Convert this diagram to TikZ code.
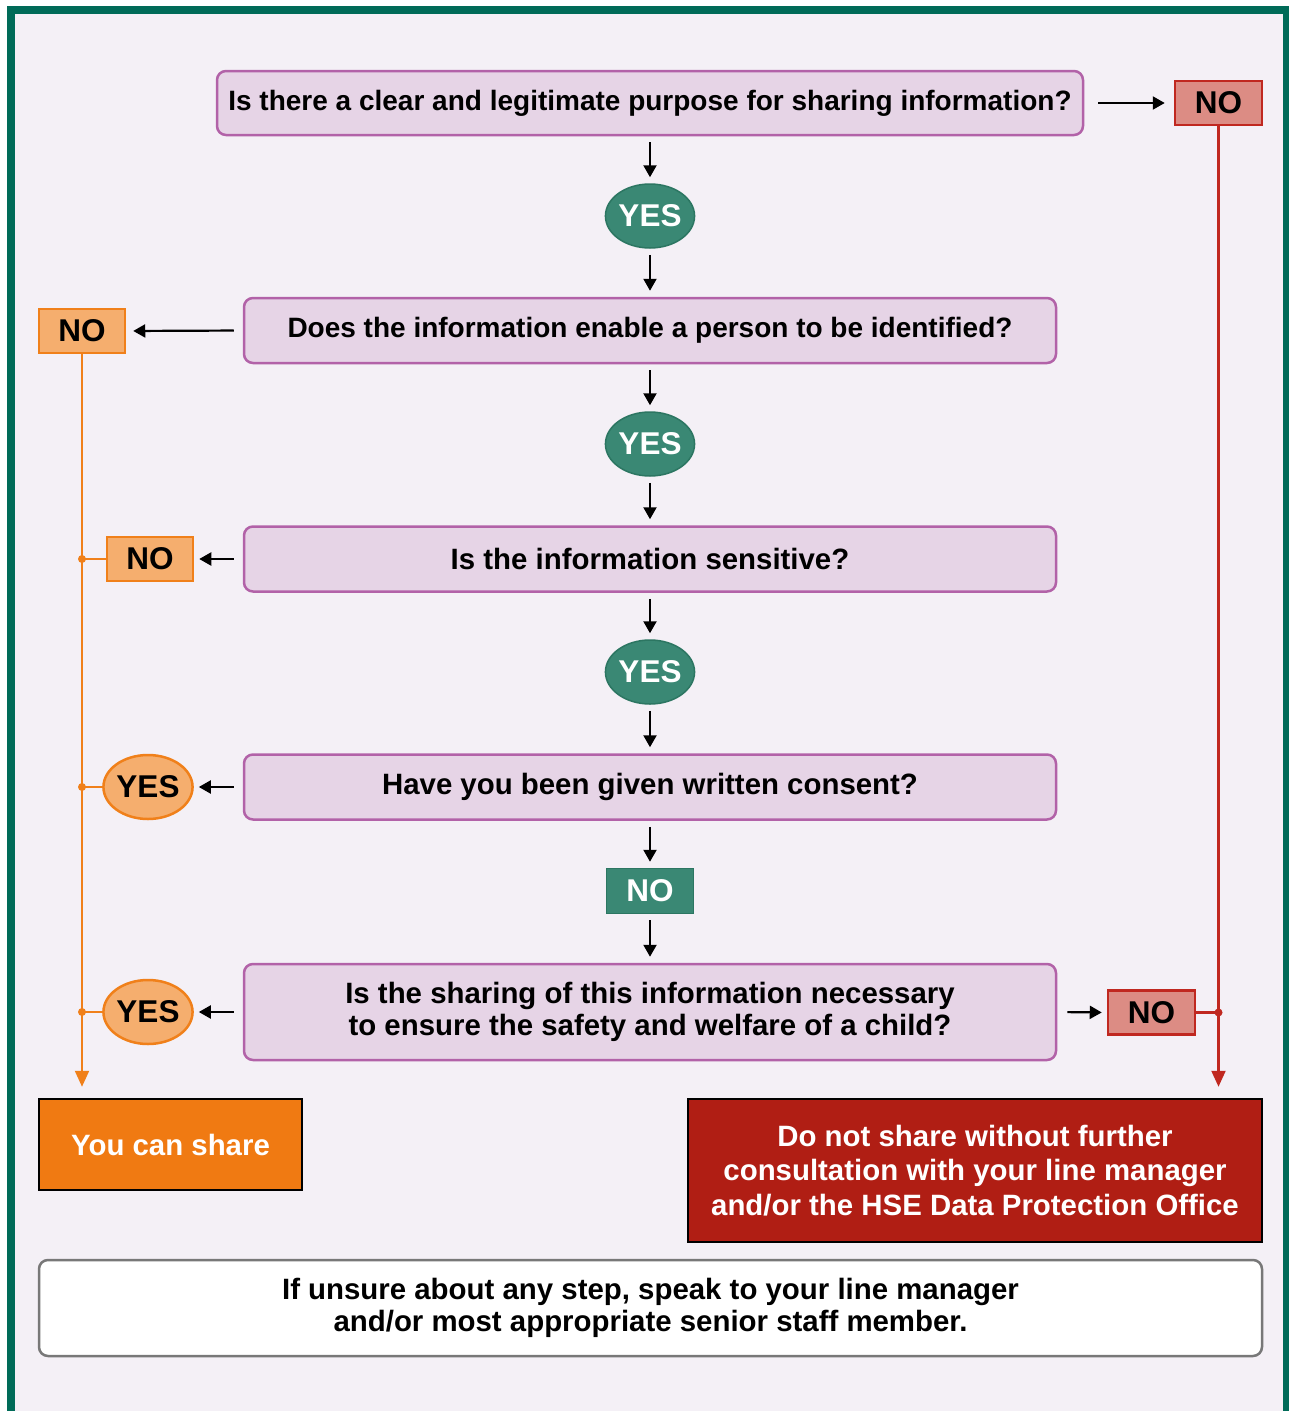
\documentclass[tikz,border=0pt]{standalone}
\usepackage{fontspec}
\setmainfont{Liberation Sans}
\usetikzlibrary{arrows.meta,shapes.geometric}
\definecolor{framegreen}{RGB}{0,107,88}
\definecolor{bgcol}{RGB}{244,240,246}
\definecolor{qfill}{RGB}{230,212,230}
\definecolor{qborder}{RGB}{178,98,168}
\definecolor{tealfill}{RGB}{58,136,116}
\definecolor{tealborder}{RGB}{44,118,98}
\definecolor{ofill}{RGB}{245,174,110}
\definecolor{oborder}{RGB}{240,128,26}
\definecolor{sfill}{RGB}{220,140,132}
\definecolor{sborder}{RGB}{192,40,32}
\definecolor{redbox}{RGB}{176,30,20}
\definecolor{orangebox}{RGB}{240,122,18}
\definecolor{notegray}{RGB}{120,120,120}
\begin{document}
\begin{tikzpicture}[x=1pt,y=-1pt,
  txt/.style={font=\fontsize{29.4}{32}\selectfont\bfseries, align=center, inner sep=0pt},
  smalltxt/.style={font=\fontsize{28}{32}\selectfont\bfseries},
  question/.style={txt, rectangle, rounded corners=9pt, draw=qborder, fill=qfill, line width=2.5pt, minimum width=812pt, minimum height=65pt},
  ansfont/.style={font=\fontsize{31.5}{32}\selectfont\bfseries, inner sep=0pt},
  tealyes/.style={ansfont, ellipse, draw=tealborder, fill=tealfill, line width=1.5pt, minimum width=88pt, minimum height=64pt, text=white},
  tealno/.style={ansfont, rectangle, draw=tealborder, fill=tealfill, line width=1.5pt, minimum width=87pt, minimum height=45pt, text=white},
  ono/.style={ansfont, rectangle, draw=oborder, fill=ofill, line width=2.5pt, minimum width=86pt, minimum height=44pt},
  oyes/.style={ansfont, ellipse, draw=oborder, fill=ofill, line width=2.5pt, minimum width=87pt, minimum height=64pt},
  sno/.style={ansfont, rectangle, draw=sborder, fill=sfill, line width=2.5pt, minimum width=87pt, minimum height=44pt},
  arr/.style={line width=2.2pt, -{Triangle[length=12pt,width=13pt]}},
  oline/.style={oborder, line width=2.2pt},
  rline/.style={sborder, line width=2.2pt},
  bigtip/.style={-{Triangle[length=16pt,width=14pt]}},
  dot/.style={circle, fill, inner sep=0pt, minimum size=8pt}
]
\useasboundingbox (0,0) rectangle (1289,1411);
\fill[white] (0,0) rectangle (1289,1411);
\fill[bgcol] (11,10) rectangle (1287,1411);
\draw[framegreen, line width=8pt] (11,1415) -- (11,10) -- (1287,10) -- (1287,1415);

% questions
\node[question, smalltxt, minimum width=866pt, minimum height=64pt] (q1) at (650,103) {Is there a clear and legitimate purpose for sharing information?};
\node[question, smalltxt] (q2) at (650,330.5) {Does the information enable a person to be identified?};
\node[question] (q3) at (650,559) {Is the information sensitive?};
\node[question] (q4) at (650,787) {Have you been given written consent?};
\node[question, minimum height=96pt] (q5) at (650,1012) {Is the sharing of this information necessary\\to ensure the safety and welfare of a child?};

% centre answers
\node[tealyes] (y1) at (650,216) {YES};
\node[tealyes] (y2) at (650,444) {YES};
\node[tealyes] (y3) at (650,672) {YES};
\node[tealno] (n4) at (650,891) {NO};

% side answers
\node[sno] (nA) at (1218.5,103) {NO};
\node[ono] (nB) at (82,331) {NO};
\node[ono] (nC) at (150,559) {NO};
\node[oyes] (yD) at (148,787) {YES};
\node[oyes] (yE) at (148,1012) {YES};
\node[sno] (nF) at (1151.5,1012.5) {NO};

% outcomes
\node[txt, rectangle, draw=black, line width=2.5pt, fill=orangebox, text=white, minimum width=263pt, minimum height=91pt] (share) at (170.5,1144.5) {You can share};
\node[txt, rectangle, draw=black, line width=2.5pt, fill=redbox, text=white, minimum width=574pt, minimum height=143pt, font=\fontsize{29.4}{34.5}\selectfont\bfseries] (dont) at (975,1170.5) {Do not share without further\\consultation with your line manager\\and/or the HSE Data Protection Office};
\node[txt, rectangle, rounded corners=9pt, draw=notegray, line width=2.5pt, fill=white, minimum width=1223pt, minimum height=96pt] (note) at (650.5,1308) {If unsure about any step, speak to your line manager\\and/or most appropriate senior staff member.};

% vertical flow
\draw[arr, shorten <=6pt, shorten >=6pt] (q1) -- (y1);
\draw[arr, shorten <=6pt, shorten >=6pt] (y1) -- (q2);
\draw[arr, shorten <=6pt, shorten >=6pt] (q2) -- (y2);
\draw[arr, shorten <=6pt, shorten >=6pt] (y2) -- (q3);
\draw[arr, shorten <=6pt, shorten >=6pt] (q3) -- (y3);
\draw[arr, shorten <=6pt, shorten >=6pt] (y3) -- (q4);
\draw[arr, shorten <=6pt, shorten >=6pt] (q4) -- (n4);
\draw[arr, shorten <=6pt, shorten >=6pt] (n4) -- (q5);

% side arrows
\draw[arr, shorten <=14pt, shorten >=9pt] (q1.east) -- (nA.west);
\draw[arr, shorten <=9pt, shorten >=7pt] (q2.west) -- (nB.east);
\draw[arr, shorten <=9pt, shorten >=5pt] (q3.west) -- (nC.east);
\draw[arr, shorten <=9pt, shorten >=5pt] (q4.west) -- (yD.east);
\draw[arr, shorten <=9pt, shorten >=5pt] (q5.west) -- (yE.east);
\draw[arr, shorten <=10pt, shorten >=5pt] (q5.east) -- (nF.west);

% orange collector
\draw[oline, bigtip, shorten >=11pt] (nB.south) -- (nB.south |- share.north);
\draw[oline] (nC.west) -- (nC.west -| nB.south) node[dot, oborder] {};
\draw[oline] (yD.west) -- (yD.west -| nB.south) node[dot, oborder] {};
\draw[oline] (yE.west) -- (yE.west -| nB.south) node[dot, oborder] {};

% red collector
\draw[rline, bigtip, shorten >=11pt] (nA.south) -- (nA.south |- dont.north);
\draw[rline] (nF.east) -- (nF.east -| nA.south) node[dot, sborder] {};
\end{tikzpicture}
\end{document}
